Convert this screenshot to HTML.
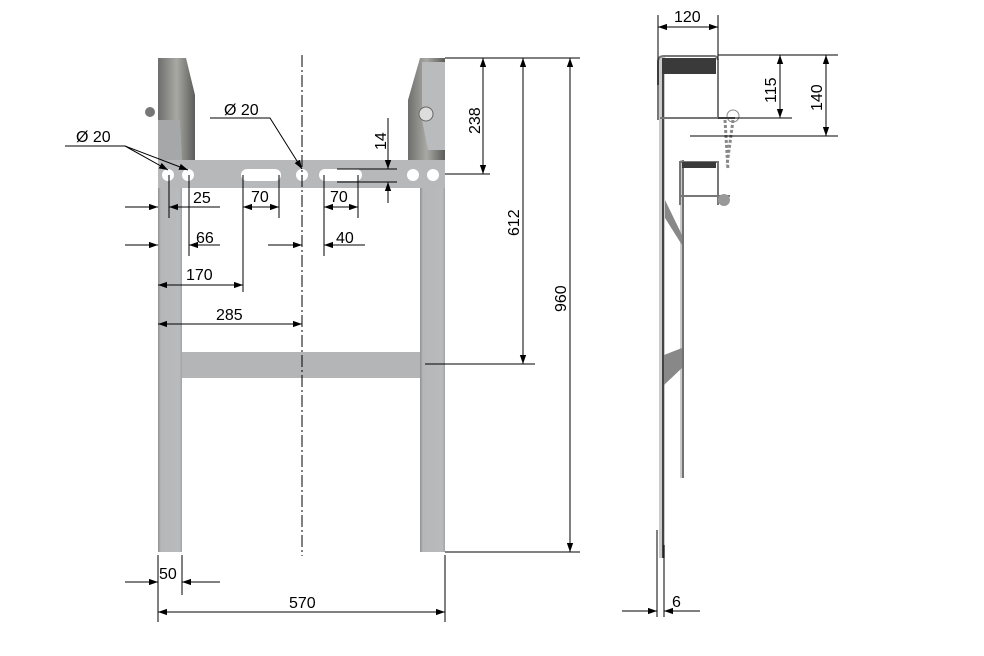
<!DOCTYPE html>
<html><head><meta charset="utf-8"><style>
html,body{margin:0;padding:0;background:#fff;}
svg{display:block;}
text{font-family:"Liberation Sans",Arial,sans-serif;font-size:16px;fill:#000;}
</style></head><body>
<svg width="984" height="656" viewBox="0 0 984 656" xmlns="http://www.w3.org/2000/svg">
<defs>
<marker id="a" viewBox="0 0 10 10" refX="10" refY="5" markerWidth="9" markerHeight="9" orient="auto-start-reverse" markerUnits="userSpaceOnUse"><path d="M0,1.5 L10,5 L0,8.5z" fill="#000"/></marker>
<linearGradient id="leg" x1="0" x2="1"><stop offset="0" stop-color="#8e9092"/><stop offset="0.12" stop-color="#b5b7b9"/><stop offset="0.9" stop-color="#b8babc"/><stop offset="1" stop-color="#a0a2a4"/></linearGradient>
<linearGradient id="br" x1="0" x2="1"><stop offset="0" stop-color="#6e6e6c"/><stop offset="0.5" stop-color="#a8a8a4"/><stop offset="1" stop-color="#5c5c5a"/></linearGradient>
</defs>

<!-- FRONT VIEW -->
<rect x="158" y="58" width="24" height="494" fill="url(#leg)"/>
<rect x="420" y="58" width="25" height="494" fill="url(#leg)"/>
<path d="M158,58 L186,58 L195,95 L195,160 L158,160z" fill="url(#br)"/>
<path d="M158,120 L180,120 L182,160 L158,160z" fill="#a5a7a9"/>
<path d="M420,58 L445,58 L445,160 L408,160 L408,100 Z" fill="url(#br)"/>
<path d="M422,62 L445,62 L445,150 L428,150 L422,120z" fill="#b9bbbd"/>
<circle cx="150" cy="112" r="5" fill="#777"/><circle cx="426" cy="114" r="7" fill="#ddd" stroke="#666"/>
<rect x="158" y="160" width="287" height="28" fill="#b6b8ba"/>
<rect x="182" y="352" width="238" height="26" fill="#b3b5b7"/>
<g fill="#fff">
<circle cx="168" cy="175" r="6"/><circle cx="188" cy="175" r="6"/><circle cx="302" cy="175" r="6"/>
<circle cx="413" cy="175" r="6"/><circle cx="433" cy="175" r="6"/>
<rect x="241" y="169" width="40" height="12" rx="6"/><rect x="319" y="169" width="43" height="12" rx="6"/>
</g>
<line x1="302" y1="55" x2="302" y2="556" stroke="#000" stroke-width="1" stroke-dasharray="12,3,2,3"/>

<g stroke="#000" stroke-width="1" fill="none">
<line x1="445" y1="58" x2="580" y2="58"/><line x1="445" y1="174" x2="490" y2="174"/>
<line x1="425" y1="364" x2="535" y2="364"/><line x1="445" y1="552" x2="580" y2="552"/>
<line x1="483" y1="58" x2="483" y2="174" marker-start="url(#a)" marker-end="url(#a)"/>
<line x1="523" y1="58" x2="523" y2="364" marker-start="url(#a)" marker-end="url(#a)"/>
<line x1="570" y1="58" x2="570" y2="552" marker-start="url(#a)" marker-end="url(#a)"/>
<line x1="337" y1="169" x2="397" y2="169"/><line x1="337" y1="182" x2="397" y2="182"/>
<line x1="388" y1="118" x2="388" y2="169" marker-end="url(#a)"/>
<line x1="388" y1="203" x2="388" y2="182" marker-end="url(#a)"/>
<line x1="158" y1="555" x2="158" y2="622"/><line x1="182" y1="555" x2="182" y2="595"/><line x1="445" y1="555" x2="445" y2="622"/>
<line x1="125" y1="582" x2="158" y2="582" marker-end="url(#a)"/>
<line x1="220" y1="582" x2="182" y2="582" marker-end="url(#a)"/>
<line x1="158" y1="612" x2="445" y2="612" marker-start="url(#a)" marker-end="url(#a)"/>
<line x1="169" y1="175" x2="169" y2="218"/><line x1="189" y1="175" x2="189" y2="256"/>
<line x1="243" y1="175" x2="243" y2="292"/><line x1="279" y1="175" x2="279" y2="218"/>
<line x1="324" y1="175" x2="324" y2="256"/><line x1="358" y1="175" x2="358" y2="218"/>
<line x1="125" y1="207" x2="158" y2="207" marker-end="url(#a)"/>
<line x1="220" y1="207" x2="169" y2="207" marker-end="url(#a)"/>
<line x1="125" y1="245" x2="158" y2="245" marker-end="url(#a)"/>
<line x1="220" y1="245" x2="189" y2="245" marker-end="url(#a)"/>
<line x1="243" y1="207" x2="279" y2="207" marker-start="url(#a)" marker-end="url(#a)"/>
<line x1="324" y1="207" x2="358" y2="207" marker-start="url(#a)" marker-end="url(#a)"/>
<line x1="268" y1="245" x2="302" y2="245" marker-end="url(#a)"/>
<line x1="365" y1="245" x2="324" y2="245" marker-end="url(#a)"/>
<line x1="158" y1="285" x2="243" y2="285" marker-start="url(#a)" marker-end="url(#a)"/>
<line x1="158" y1="324" x2="302" y2="324" marker-start="url(#a)" marker-end="url(#a)"/>
<polyline points="65,146 125,146 168,170" marker-end="url(#a)"/>
<line x1="125" y1="146" x2="188" y2="170" marker-end="url(#a)"/>
<polyline points="210,118 270,118 302,169" marker-end="url(#a)"/>
</g>
<text x="76" y="142">Ø 20</text>
<text x="224" y="115">Ø 20</text>
<text x="193" y="203">25</text>
<text x="251" y="202">70</text>
<text x="330" y="202">70</text>
<text x="196" y="243">66</text>
<text x="336" y="243">40</text>
<text x="186" y="280">170</text>
<text x="216" y="320">285</text>
<text x="159" y="579">50</text>
<text x="289" y="608">570</text>
<text transform="translate(386,150) rotate(-90)">14</text>
<text transform="translate(480,134) rotate(-90)">238</text>
<text transform="translate(519,236) rotate(-90)">612</text>
<text transform="translate(566,312) rotate(-90)">960</text>

<!-- SIDE VIEW -->
<rect x="659" y="56" width="6" height="502" fill="#c9cbcd"/>
<line x1="663" y1="58" x2="663" y2="558" stroke="#444" stroke-width="2"/>
<rect x="680" y="160" width="4" height="318" fill="#c9cbcd"/>
<line x1="683" y1="160" x2="683" y2="478" stroke="#555" stroke-width="1.5"/>
<path d="M665,200 L682,235 L682,245 L665,218z" fill="#888"/>
<path d="M664,355 L682,348 L682,368 L664,385z" fill="#888"/>
<path d="M658,120 L658,62 Q658,56 664,56 L714,56 Q718,56 718,62 L718,118" fill="none" stroke="#777" stroke-width="2"/>
<rect x="662" y="58" width="54" height="16" fill="#3a3a3a"/>
<line x1="660" y1="118" x2="735" y2="118" stroke="#777" stroke-width="2"/>
<path d="M680,205 L680,162 L718,162 L718,205" fill="none" stroke="#777" stroke-width="2"/>
<rect x="682" y="162" width="34" height="6" fill="#3a3a3a"/>
<line x1="680" y1="196" x2="730" y2="196" stroke="#777" stroke-width="2"/>
<path d="M725,120 L728,170 M733,120 L727,165" stroke="#888" stroke-width="3" stroke-dasharray="3,2"/>
<circle cx="733" cy="116" r="6" fill="none" stroke="#888"/>
<circle cx="724" cy="200" r="6" fill="#999"/>

<g stroke="#000" stroke-width="1" fill="none">
<line x1="658" y1="15" x2="658" y2="85"/><line x1="718" y1="15" x2="718" y2="60"/>
<line x1="658" y1="27" x2="718" y2="27" marker-start="url(#a)" marker-end="url(#a)"/>
<line x1="718" y1="55" x2="838" y2="55"/><line x1="718" y1="118" x2="792" y2="118"/><line x1="690" y1="136" x2="838" y2="136"/>
<line x1="780" y1="55" x2="780" y2="118" marker-start="url(#a)" marker-end="url(#a)"/>
<line x1="826" y1="55" x2="826" y2="136" marker-start="url(#a)" marker-end="url(#a)"/>
<line x1="657" y1="530" x2="657" y2="617"/><line x1="664" y1="545" x2="664" y2="617"/>
<line x1="622" y1="611" x2="657" y2="611" marker-end="url(#a)"/>
<line x1="700" y1="611" x2="664" y2="611" marker-end="url(#a)"/>
</g>
<text x="674" y="22">120</text>
<text x="672" y="607">6</text>
<text transform="translate(776,103) rotate(-90)">115</text>
<text transform="translate(822,111) rotate(-90)">140</text>
</svg>
</body></html>
